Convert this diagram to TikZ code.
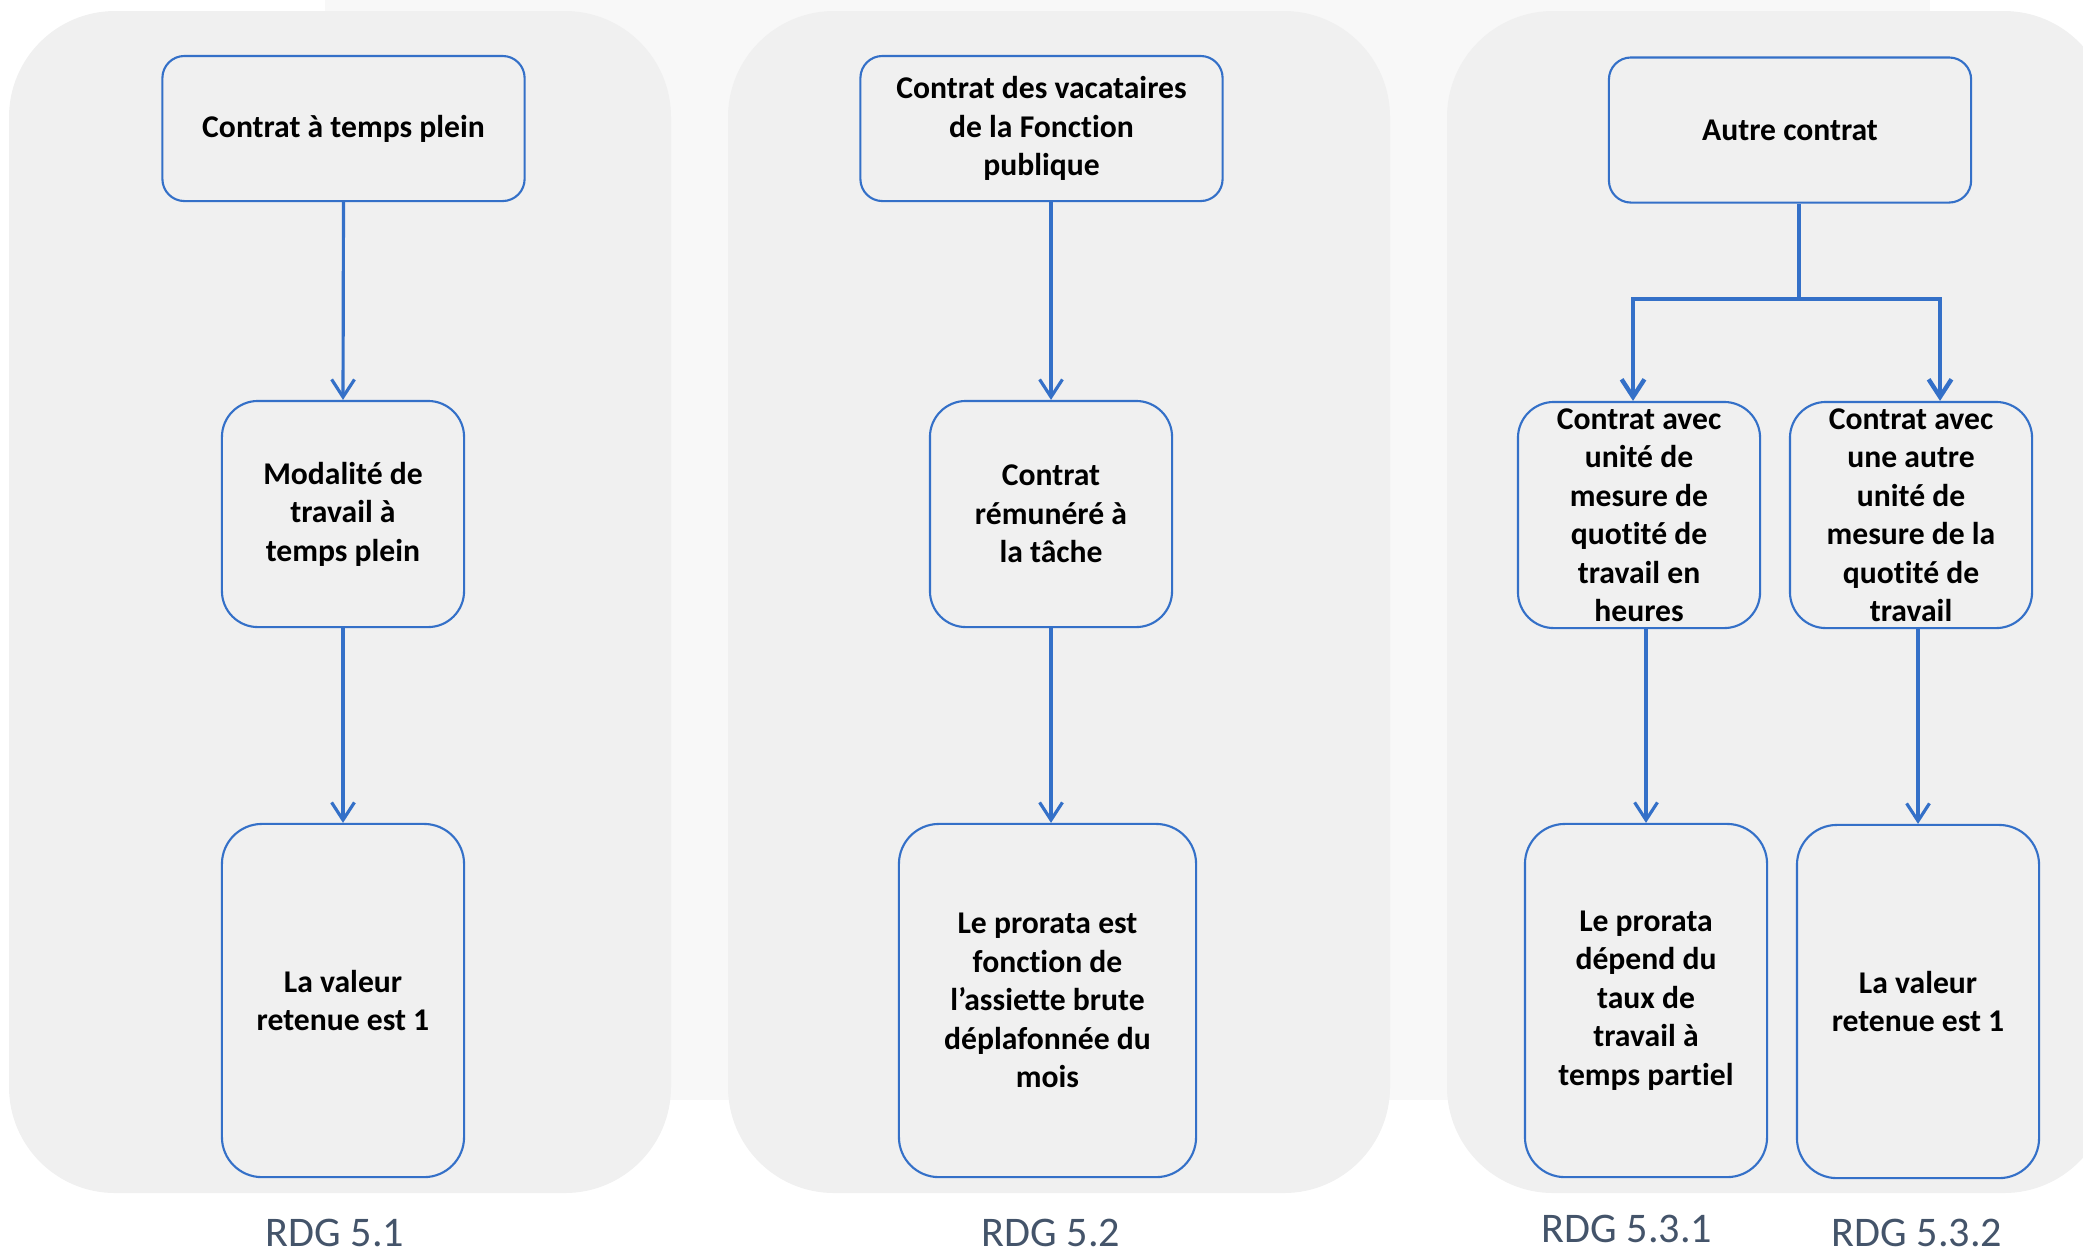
\documentclass[tikz,border=0pt]{standalone}
\usepackage{fontspec}
\setmainfont{Carlito}[Ligatures={NoCommon}]
\usetikzlibrary{arrows.meta}
\definecolor{bl}{RGB}{52,112,200}
\definecolor{pan}{RGB}{240,240,240}
\definecolor{faint}{RGB}{248,248,248}
\definecolor{lab}{RGB}{68,84,106}
\begin{document}
\begin{tikzpicture}[x=0.01cm,y=-0.01cm,
 box/.style={draw=bl, line width=0.6pt, fill=pan, align=center, font=\fontsize{9}{10.95}\selectfont\bfseries, inner sep=0pt},
 topbox/.style={box, rounded corners=0.22cm, minimum width=3.62cm, minimum height=1.45cm},
 midbox/.style={box, rounded corners=0.36cm, minimum width=2.42cm, minimum height=2.26cm},
 botbox/.style={box, rounded corners=0.4cm, minimum width=2.42cm, minimum height=3.53cm},
 conn/.style={draw=bl, line width=0.9pt, -{Straight Barb[length=5pt,width=6.5pt]}},
 conntrunk/.style={draw=bl, line width=1.1pt},
 connbranch/.style={draw=bl, line width=1.25pt, -{Straight Barb[length=5pt,width=6.5pt]}},
 panel/.style={fill=pan, rounded corners=1.06cm},
 rdg/.style={font=\fontsize{12}{14}\selectfont, text=lab, anchor=base, inner sep=0pt}]

\useasboundingbox (0,0) rectangle (2083,1253);
\begin{scope}
\clip (0,0) rectangle (2083,1253);
\fill[faint] (325,0) rectangle (1930,1100);
\fill[panel] (9,11) rectangle (671,1193);
\fill[panel] (728,11) rectangle (1390,1193);
\fill[panel] (1447,11) rectangle (2110,1193);
\end{scope}

% Panel 1
\node[topbox] (a1) at (343.5,128.5) {Contrat à temps plein};
\node[midbox] (b1) at (343,514) {Modalité de\\travail à\\temps plein};
\node[botbox] (c1) at (343,1000.5) {La valeur\\retenue est 1};
\draw[conn] (a1.south) -- (b1.north);
\draw[conn] (b1.south) -- (c1.north);

% Panel 2
\node[topbox] (a2) at (1041.5,128.5) {Contrat des vacataires\\de la Fonction\\publique};
\node[midbox] (b2) at (1051,514) {Contrat\\rémunéré à\\la tâche};
\node[botbox, minimum width=2.97cm] (c2) at (1047.5,1000.5) {Le prorata est\\fonction de\\l{\char"27}assiette brute\\déplafonnée du\\mois};
\draw[conn] (a2.south -| b2.north) -- (b2.north);
\draw[conn] (b2.south) -- (b2.south |- c2.north);

% Panel 3
\node[topbox] (a3) at (1790,130) {Autre contrat};
\node[midbox] (b3) at (1639,515) {Contrat avec\\unité de\\mesure de\\quotité de\\travail en\\heures};
\node[midbox] (c3) at (1911,515) {Contrat avec\\une autre\\unité de\\mesure de la\\quotité de\\travail};
\node[botbox] (d3) at (1646,1000.5) {Le prorata\\dépend du\\taux de\\travail à\\temps partiel};
\node[botbox] (e3) at (1918,1001.5) {La valeur\\retenue est 1};
\coordinate (j) at (1799,299);
\coordinate (jl) at (1633,299);
\coordinate (jr) at (1940,299);
\draw[conntrunk] (a3.south -| j) -- (j);
\draw[connbranch] (j) -| (b3.north -| jl);
\draw[connbranch] (j) -| (c3.north -| jr);
\draw[conn] (b3.south -| d3.north) -- (d3.north);
\draw[conn] (c3.south -| e3.north) -- (e3.north);

% Labels
\node[rdg] (l1) at (335,1246) {RDG 5.1};
\node[rdg] (l2) at (1051,1246) {RDG 5.2};
\node[rdg] (l3) at (1627,1242) {RDG 5.3.1};
\node[rdg] (l4) at (1917,1246) {RDG 5.3.2};
\end{tikzpicture}
\end{document}
